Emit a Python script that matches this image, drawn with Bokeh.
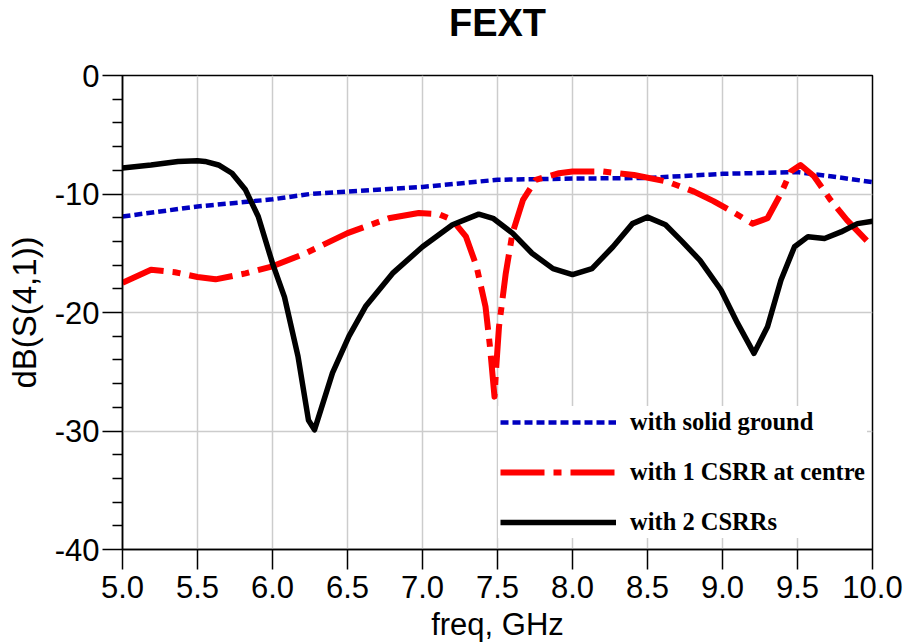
from bokeh.plotting import figure
from bokeh.models import Legend, LegendItem, FixedTicker, Title
from bokeh.embed import file_html
from bokeh.resources import INLINE

# ---- data ----
freq_solid = [5.0, 5.5, 6.0, 6.25, 6.5, 7.0, 7.5, 8.0, 8.5, 9.0, 9.5, 9.72, 10.0]
db_solid = [-11.9, -11.05, -10.45, -10.0, -9.8, -9.4, -8.8, -8.7, -8.65, -8.3, -8.15, -8.5, -9.0]

freq_1csrr = [5.0, 5.19, 5.35, 5.5, 5.62, 5.82, 6.0, 6.22, 6.5, 6.775, 6.975, 7.11, 7.2, 7.29,
              7.36, 7.42, 7.45, 7.48, 7.49, 7.51, 7.555, 7.6, 7.67, 7.755, 7.91, 8.0, 8.2, 8.41,
              8.63, 8.81, 8.94, 9.08, 9.2, 9.3, 9.39, 9.455, 9.52, 9.61, 9.72, 9.83, 10.0]
db_1csrr = [-17.5, -16.4, -16.6, -17.0, -17.2, -16.7, -16.1, -15.0, -13.3, -12.05, -11.6, -11.7,
            -12.2, -13.6, -16.1, -19.5, -22.9, -27.1, -24.9, -21.2, -16.7, -13.3, -10.5, -8.8,
            -8.25, -8.1, -8.1, -8.4, -8.95, -9.8, -10.6, -11.6, -12.5, -12.05, -9.95, -8.1,
            -7.55, -8.5, -10.5, -12.2, -14.45]

freq_2csrr = [5.0, 5.19, 5.37, 5.5, 5.55, 5.64, 5.73, 5.82, 5.905, 6.0, 6.08, 6.17, 6.24, 6.28,
              6.4, 6.51, 6.62, 6.8, 7.0, 7.2, 7.375, 7.47, 7.6, 7.73, 7.87, 8.0, 8.13, 8.27, 8.4,
              8.5, 8.62, 8.73, 8.85, 8.99, 9.1, 9.21, 9.3, 9.39, 9.48, 9.57, 9.68, 9.79, 9.9, 10.0]
db_2csrr = [-7.8, -7.55, -7.25, -7.2, -7.25, -7.55, -8.25, -9.65, -11.9, -15.85, -18.7, -23.7,
            -29.1, -29.9, -25.1, -22.0, -19.5, -16.7, -14.45, -12.6, -11.7, -12.05, -13.3, -15.0,
            -16.3, -16.8, -16.3, -14.45, -12.5, -11.95, -12.6, -14.0, -15.6, -18.1, -20.9, -23.45,
            -21.2, -17.25, -14.45, -13.6, -13.75, -13.2, -12.5, -12.3]

x_ticks = [5.0, 5.5, 6.0, 6.5, 7.0, 7.5, 8.0, 8.5, 9.0, 9.5, 10.0]
x_tick_labels = ["5.0", "5.5", "6.0", "6.5", "7.0", "7.5", "8.0", "8.5", "9.0", "9.5", "10.0"]
y_ticks = [0, -10, -20, -30, -40]
y_tick_labels = ["0", "-10", "-20", "-30", "-40"]
y_minor_ticks = [-2, -4, -6, -8, -12, -14, -16, -18, -22, -24, -26, -28, -32, -34, -36, -38]

series_names = ["with solid ground", "with 1 CSRR at centre", "with 2 CSRRs"]
chart_title = "FEXT"

p = figure(width=904, height=644, output_backend="svg", toolbar_location=None,
           x_range=(5.0, 10.0), y_range=(-40, 0), title_location=None,
           min_border_left=122, min_border_right=32, min_border_top=75, min_border_bottom=94)
p.background_fill_color = "white"
p.border_fill_color = "white"
p.outline_line_color = "black"
p.outline_line_width = 1.5

# spacer (nearest the frame) and the chart title above it
p.add_layout(Title(text=" ", text_font_size="8px", standoff=19), "above")
p.add_layout(Title(text=chart_title, align="center", vertical_align="top", standoff=0,
                   text_font="Liberation Sans", text_font_size="38px",
                   text_font_style="bold", text_color="black"), "above")

font = "Liberation Sans"
for ax in (p.xaxis[0], p.yaxis[0]):
    ax.axis_line_color = "black"
    ax.axis_line_width = 1.5
    ax.major_tick_line_color = "black"
    ax.major_tick_line_width = 1.5
    ax.minor_tick_line_color = "black"
    ax.minor_tick_line_width = 1.5
    ax.major_tick_in = 0
    ax.major_tick_out = 20
    ax.minor_tick_in = 0
    ax.major_label_text_font = font
    ax.major_label_text_font_size = "31px"
    ax.major_label_text_color = "black"
    ax.axis_label_text_font = font
    ax.axis_label_text_font_style = "normal"
    ax.axis_label_text_color = "black"

p.xaxis.ticker = FixedTicker(ticks=x_ticks)
p.xaxis.major_label_overrides = dict(zip(x_ticks, x_tick_labels))
p.xaxis.minor_tick_out = 0
p.xaxis.major_label_standoff = 6
p.xaxis.axis_label = "freq, GHz"
p.xaxis.axis_label_text_font_size = "31px"
p.xaxis.axis_label_standoff = 6

p.yaxis.ticker = FixedTicker(ticks=y_ticks, minor_ticks=y_minor_ticks)
p.yaxis.major_label_overrides = dict(zip(y_ticks, y_tick_labels))
p.yaxis.minor_tick_out = 10
p.yaxis.major_label_standoff = 3
p.yaxis.axis_label = "dB(S(4,1))"
p.yaxis.axis_label_text_font_size = "33px"
p.yaxis.axis_label_standoff = 9

for g in (p.xgrid[0], p.ygrid[0]):
    g.grid_line_color = "#cccccc"
    g.grid_line_width = 1.5
p.ygrid.ticker = FixedTicker(ticks=y_ticks)
p.xgrid.ticker = FixedTicker(ticks=x_ticks)

r_solid = p.line(freq_solid, db_solid, line_color="#0000c0", line_width=4.5, line_dash="8 4")
r_1 = p.line(freq_1csrr, db_1csrr, line_color="#ff0000", line_width=6, line_dash="44 9 8 9",
             line_join="round")
r_2 = p.line(freq_2csrr, db_2csrr, line_color="black", line_width=5.5, line_join="round")

legend = Legend(items=[LegendItem(label=series_names[0], renderers=[r_solid]),
                       LegendItem(label=series_names[1], renderers=[r_1]),
                       LegendItem(label=series_names[2], renderers=[r_2])],
                location=(376, 11))
legend.background_fill_color = "white"
legend.background_fill_alpha = 1.0
legend.border_line_alpha = 0
legend.label_text_font = "Liberation Serif"
legend.label_text_font_style = "bold"
legend.label_text_font_size = "24.5px"
legend.label_text_color = "black"
legend.glyph_width = 116
legend.glyph_height = 28
legend.label_height = 28
legend.label_standoff = 14
legend.spacing = 22
legend.padding = 2
legend.margin = 0
p.add_layout(legend)

open("out.html", "w").write(file_html(p, INLINE))
